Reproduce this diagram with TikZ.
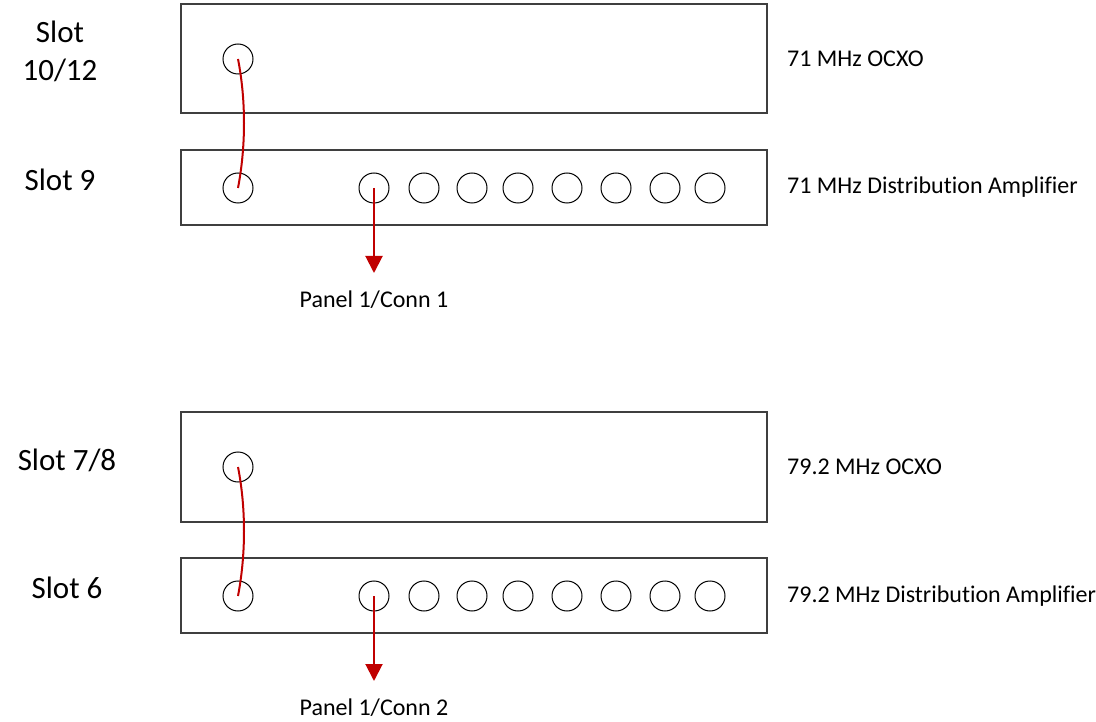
\documentclass[tikz,border=0pt]{standalone}
\usepackage{fontspec}
\setmainfont{Carlito}[Ligatures={NoCommon}]
\usetikzlibrary{arrows.meta}
\definecolor{cable}{HTML}{C00000}
\definecolor{frame}{HTML}{3F3F3F}
\tikzset{
  box/.style={draw=frame, line width=1.3pt, rectangle, inner sep=0pt},
  conn/.style={draw=black, line width=1pt, circle, minimum size=30pt, inner sep=0pt},
  cablestyle/.style={draw=cable, line width=2pt},
  feed/.style={draw=cable, line width=2pt, -{Triangle[length=17pt,width=17pt]}},
  slotlabel/.style={font=\fontsize{31}{38}\selectfont, align=center, inner sep=0pt},
  devlabel/.style={font=\fontsize{24}{28}\selectfont, anchor=west, inner sep=0pt},
  panellabel/.style={font=\fontsize{24}{28}\selectfont, inner sep=0pt}
}
\begin{document}
\begin{tikzpicture}[x=1pt,y=-1pt]
\useasboundingbox (0,0) rectangle (1096,722);
% ---------- upper group ----------
\node[box, minimum width=586pt, minimum height=109pt] (ocxoA) at (474,58.5) {};
\node[box, minimum width=586pt, minimum height=75pt] (distA) at (474,187.5) {};
\node[conn] (oA) at (238,59) {};
\node[conn] (iA) at (238,188) {};
\foreach \x [count=\i] in {374,424,472,518,567,616,665,710}
  \node[conn] (dA\i) at (\x,188) {};
\node[slotlabel] (slotA) at (60,51) {Slot\\10/12};
\node[slotlabel] (slotB) at (60,180) {Slot 9};
\node[devlabel] (labA) at (787,59) {71 MHz OCXO};
\node[devlabel] (labB) at (787,187) {71 MHz Distribution Amplifier};
\coordinate (tipA) at (374,273);
\node[panellabel] (panA) at (374,300) {Panel 1/Conn 1};
\draw[cablestyle] (oA.center) .. controls (246,100) and (246,146) .. (iA.center);
\draw[feed] (dA1.center) -- (tipA);
% ---------- lower group ----------
\node[box, minimum width=586pt, minimum height=110pt] (ocxoB) at (474,467) {};
\node[box, minimum width=586pt, minimum height=75pt] (distB) at (474,595.5) {};
\node[conn] (oB) at (238,467) {};
\node[conn] (iB) at (238,596) {};
\foreach \x [count=\i] in {374,424,472,518,567,616,665,710}
  \node[conn] (dB\i) at (\x,596) {};
\node[slotlabel] (slotC) at (67,460) {Slot 7/8};
\node[slotlabel] (slotD) at (67,588) {Slot 6};
\node[devlabel] (labC) at (787,467) {79.2 MHz OCXO};
\node[devlabel] (labD) at (787,596) {79.2 MHz Distribution Amplifier};
\coordinate (tipB) at (374,681);
\node[panellabel] (panB) at (374,708) {Panel 1/Conn 2};
\draw[cablestyle] (oB.center) .. controls (246,508) and (246,554) .. (iB.center);
\draw[feed] (dB1.center) -- (tipB);
\end{tikzpicture}
\end{document}
